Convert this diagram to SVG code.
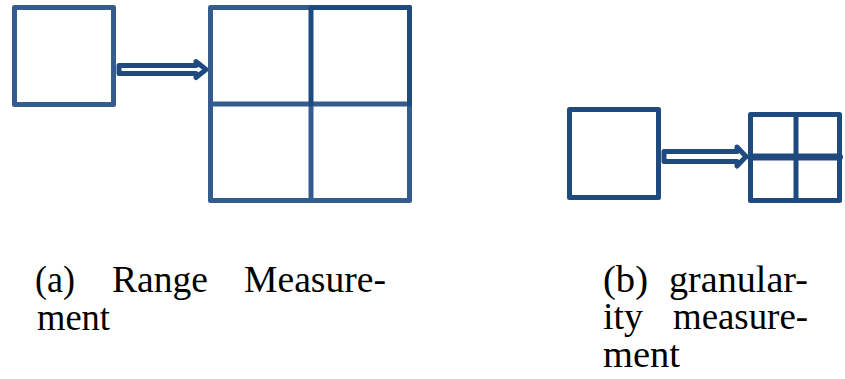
<svg xmlns="http://www.w3.org/2000/svg" width="845" height="379" viewBox="0 0 845 379">
<style>
.b{fill:none;stroke:#355c8e;stroke-width:5;stroke-linejoin:round;stroke-linecap:round}
.d{fill:none;stroke:#1f4a80;stroke-width:5;stroke-linejoin:round;stroke-linecap:round}
.ar{fill:#fff;stroke-width:5;stroke-linejoin:round}
.t{font-family:"Liberation Serif","Times New Roman",serif;font-size:37px;fill:#000}
</style>
<rect width="845" height="379" fill="#fff"/>
<g id="a-src"><rect class="b" x="14.5" y="7.5" width="99" height="97"/></g>
<g id="a-grid">
<rect class="b" x="210.5" y="7.5" width="199" height="193"/>
<line class="b" x1="210.5" y1="104" x2="409.5" y2="104"/>
<line class="b" x1="311" y1="104" x2="311" y2="200.5"/>
<line class="d" x1="311" y1="7.5" x2="311" y2="104"/>
<line class="d" x1="311" y1="7.5" x2="409.5" y2="7.5"/>
<line class="d" x1="409.5" y1="7.5" x2="409.5" y2="104"/>
</g>
<g id="b-src"><rect class="d" x="569.5" y="109.5" width="89" height="88"/></g>
<g id="b-grid">
<rect class="d" x="750.5" y="114.5" width="89" height="86"/>
<line class="d" x1="750.5" y1="157" x2="839.5" y2="157" style="stroke-width:7"/>
<line class="d" x1="796" y1="114.5" x2="796" y2="200.5"/>
</g>
<g id="connectors">
<path class="ar" stroke="#1f4a80" d="M119,65.5 H196 V61.5 L206,69.5 L196,77.5 V73.5 H119 Z"/>
<path class="ar" stroke="#1f4a80" d="M664,151.5 H737 V147 L746,156.5 L737,166 V161.5 H664 Z"/>
</g>
<g id="captions">
<text class="t" x="35" y="292" textLength="40" lengthAdjust="spacingAndGlyphs">(a)</text>
<text class="t" x="112" y="292" textLength="96" lengthAdjust="spacingAndGlyphs">Range</text>
<text class="t" x="244" y="292" textLength="142" lengthAdjust="spacingAndGlyphs">Measure-</text>
<text class="t" x="37" y="330" textLength="73" lengthAdjust="spacingAndGlyphs">ment</text>
<text class="t" x="603" y="292" textLength="45" lengthAdjust="spacingAndGlyphs">(b)</text>
<text class="t" x="669" y="292" textLength="139" lengthAdjust="spacingAndGlyphs">granular-</text>
<text class="t" x="603" y="329" textLength="40" lengthAdjust="spacingAndGlyphs">ity</text>
<text class="t" x="673" y="329" textLength="135" lengthAdjust="spacingAndGlyphs">measure-</text>
<text class="t" x="603" y="367" textLength="77" lengthAdjust="spacingAndGlyphs">ment</text>
</g>
</svg>
